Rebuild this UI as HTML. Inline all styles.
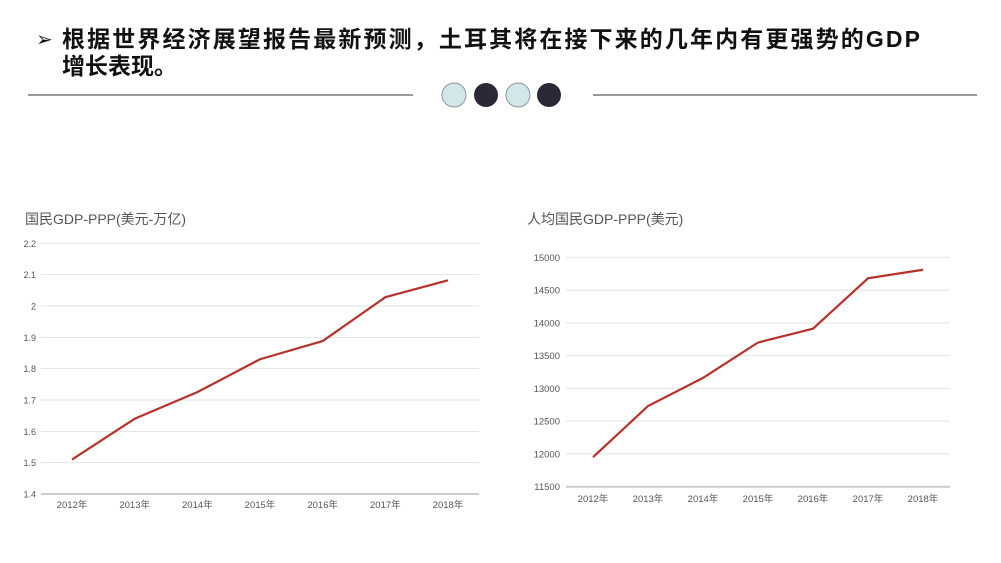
<!DOCTYPE html>
<html><head><meta charset="utf-8"><style>
body{margin:0;width:1001px;height:563px;background:#fff;overflow:hidden;font-family:"Liberation Sans","Noto Sans CJK SC",sans-serif;}
</style></head><body>
<svg width="1001" height="563" xmlns="http://www.w3.org/2000/svg" style="position:absolute;left:0;top:0">
<g>
<text x="36" y="46" font-size="20" fill="#111" font-family="DejaVu Sans,sans-serif">➢</text>
<text x="62" y="47" font-size="23" font-weight="bold" fill="#111" font-family="Liberation Sans,Noto Sans CJK SC,sans-serif" textLength="858">根据世界经济展望报告最新预测，土耳其将在接下来的几年内有更强势的GDP</text>
<text x="62" y="74" font-size="23" font-weight="bold" fill="#111" font-family="Liberation Sans,Noto Sans CJK SC,sans-serif">增长表现。</text>
<line x1="28" y1="95" x2="413" y2="95" stroke="#333" stroke-width="1"/>
<line x1="593" y1="95" x2="977" y2="95" stroke="#333" stroke-width="1"/>
<circle cx="454" cy="95" r="12" fill="#d3e6e8" stroke="#8a9a9c"/>
<circle cx="486" cy="95" r="12" fill="#2b2838"/>
<circle cx="518" cy="95" r="12" fill="#d3e6e8" stroke="#8a9a9c"/>
<circle cx="549" cy="95" r="12" fill="#2b2838"/>
</g>
<g id="c1"></g>
<g id="c2"></g>
</svg>
<script>
const categories=["2012年","2013年","2014年","2015年","2016年","2017年","2018年"];
const gdpValues=[1.51,1.64,1.725,1.83,1.888,2.028,2.082];
const gdpTicks=[1.4,1.5,1.6,1.7,1.8,1.9,2,2.1,2.2];
const perCapitaValues=[11950,12730,13160,13700,13910,14680,14810];
const perCapitaTicks=[11500,12000,12500,13000,13500,14000,14500,15000];
const NS="http://www.w3.org/2000/svg";
function mk(parent,tag,attrs){const e=document.createElementNS(NS,tag);for(const k in attrs)e.setAttribute(k,attrs[k]);parent.appendChild(e);return e;}
function draw(g,cfg){
  const {title,tx,ty,x0,x1,yTop,yBot,cx0,cx1,ticks,vals,labX,catY,tickSize}=cfg;
  const tmin=ticks[0],tmax=ticks[ticks.length-1];
  const y=v=>yBot-(v-tmin)/(tmax-tmin)*(yBot-yTop);
  const x=i=>cx0+i*(cx1-cx0)/(categories.length-1);
  const t=mk(g,'text',{x:tx,y:ty,'font-size':14,fill:'#555'});t.textContent=title;
  
  
  ticks.forEach((v,i)=>{
    const l=mk(g,'line',{x1:x0,x2:x1,y1:y(v),y2:y(v),stroke:i==0?'#ccc':'#e2e2e2','stroke-width':i==0?2:1});
    
    
    const tl=mk(g,'text',{x:labX,y:y(v)+3.5,'font-size':tickSize,fill:'#555','text-anchor':'end'});tl.textContent=v;
    
    
  });
  categories.forEach((c,i)=>{
    const cl=mk(g,'text',{x:x(i),y:catY,'font-size':9.5,fill:'#555','text-anchor':'middle'});cl.textContent=c;
    
    
  });
  const p=mk(g,'polyline',{points:vals.map((v,i)=>x(i)+','+y(v)).join(' '),fill:'none',stroke:'#b7312a','stroke-width':2.2,'stroke-linejoin':'round'});
  
  
}
draw(document.getElementById('c1'),{title:'国民GDP-PPP(美元-万亿)',tx:25,ty:224,x0:41,x1:479,yTop:243.3,yBot:494,cx0:72,cx1:448,ticks:gdpTicks,vals:gdpValues,labX:36,catY:508,tickSize:9});
draw(document.getElementById('c2'),{title:'人均国民GDP-PPP(美元)',tx:527,ty:224,x0:566,x1:950,yTop:257.3,yBot:486.7,cx0:593,cx1:923,ticks:perCapitaTicks,vals:perCapitaValues,labX:560,catY:502,tickSize:9.5});
</script>
</body></html>
